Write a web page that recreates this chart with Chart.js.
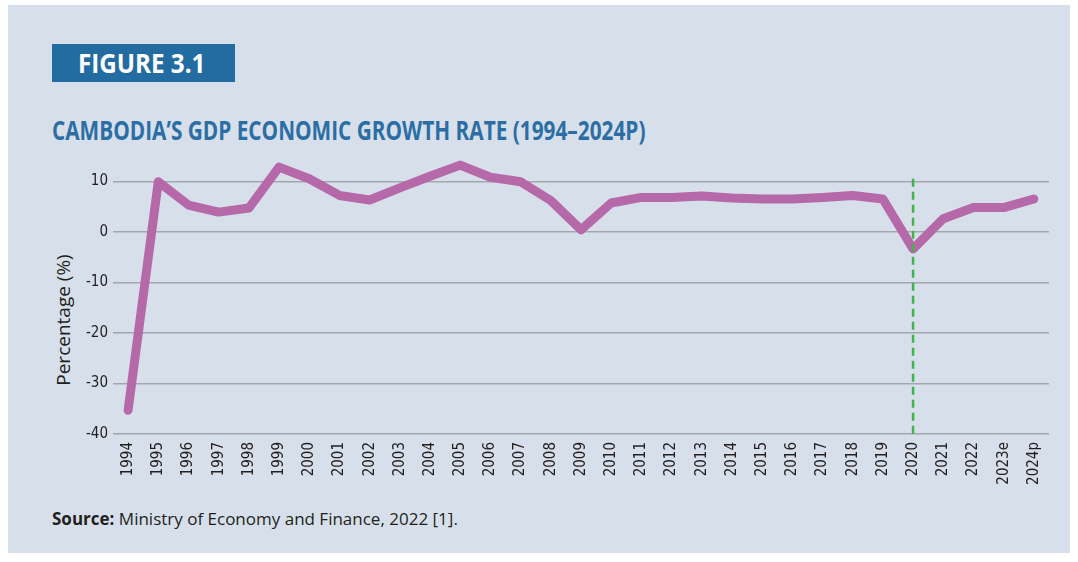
<!DOCTYPE html>
<html>
<head>
<meta charset="utf-8">
<script src="https://cdn.jsdelivr.net/npm/chart.js@4/dist/chart.umd.min.js"></script>
<style>
  html, body { margin: 0; padding: 0; background: #ffffff; }
  body { width: 1078px; height: 562px; position: relative; overflow: hidden; }
  #panel { position: absolute; left: 8px; top: 5px; width: 1062px; height: 548px; background: #d7dfea; }
  #badge { position: absolute; left: 52px; top: 44px; width: 183px; height: 38px; background: #236ca1; }
  #badgeText { position: absolute; left: 78px; top: 44px; height: 38px; line-height: 38px; color: #ffffff;
               font-family: "Open Sans", sans-serif; font-weight: bold; font-size: 26px; white-space: nowrap;
               transform: scaleX(0.93); transform-origin: left center; }
  #title { position: absolute; left: 52px; top: 112px; color: #2b6ea5; font-family: "Open Sans", sans-serif;
           font-weight: bold; font-size: 26px; white-space: nowrap; transform: scaleX(0.8); transform-origin: left top; }
  #ylabel { position: absolute; left: 63px; top: 320px; transform: translate(-50%, -50%) rotate(-90deg);
            font-family: "Open Sans", sans-serif; font-size: 19px; color: #231f20; white-space: nowrap; }
  #source { position: absolute; left: 52px; top: 507px; font-family: "Open Sans", sans-serif; font-size: 17px; color: #231f20; white-space: nowrap; }
  #wrap { position: absolute; left: 40px; top: 142px; width: 1020px; height: 358px; }
</style>
</head>
<body>
<div id="panel"></div>
<div id="badge"></div>
<div id="badgeText">FIGURE 3.1</div>
<div id="title">CAMBODIA’S GDP ECONOMIC GROWTH RATE (1994–2024P)</div>
<div id="ylabel">Percentage (%)</div>
<div id="source"><b>Source:</b> Ministry of Economy and Finance, 2022 [1].</div>
<div id="wrap"><canvas id="gdpChart"></canvas></div>
<script>
// years on the x axis
const years = ['1994', '1995', '1996', '1997', '1998', '1999', '2000', '2001', '2002', '2003',
               '2004', '2005', '2006', '2007', '2008', '2009', '2010', '2011', '2012', '2013',
               '2014', '2015', '2016', '2017', '2018', '2019', '2020', '2021', '2022', '2023e', '2024p'];

// GDP growth rate (%)
const growth = [-35.3, 9.9, 5.3, 3.9, 4.7, 12.8, 10.5, 7.2, 6.3, 8.7,
                11.0, 13.2, 10.8, 9.9, 6.2, 0.4, 5.7, 6.8, 6.8, 7.1,
                6.7, 6.5, 6.5, 6.8, 7.2, 6.5, -3.4, 2.6, 4.8, 4.8, 6.5];

// green dashed marker at 2020
const markerYear = '2020';
const markerTop = 10.5;
const markerBottom = -40;

// y axis ticks
const yTicks = [-40, -30, -20, -10, 0, 10];

const fontNarrow = '"Liberation Sans Narrow", "DejaVu Sans Condensed", sans-serif';

const ctx = document.getElementById('gdpChart').getContext('2d');
new Chart(ctx, {
    type: 'line',
    data: {
        labels: years,
        datasets: [
            {
                label: 'Marker',
                data: [{ x: markerYear, y: markerTop }, { x: markerYear, y: markerBottom }],
                borderColor: '#3db54a',
                borderWidth: 2.5,
                borderDash: [8, 5],
                pointRadius: 0,
                fill: false,
                order: 0
            },
            {
                label: 'GDP growth',
                data: growth,
                borderColor: '#b569a9',
                borderWidth: 9,
                borderJoinStyle: 'round',
                borderCapStyle: 'round',
                pointRadius: 0,
                tension: 0,
                fill: false,
                order: 1
            }
        ]
    },
    options: {
        responsive: true,
        maintainAspectRatio: false,
        animation: false,
        layout: { padding: { left: 0, right: 11, top: 5, bottom: 0 } },
        plugins: {
            legend: { display: false },
            tooltip: { enabled: false }
        },
        scales: {
            x: {
                offset: true,
                grid: { display: false, drawTicks: false },
                border: { display: false },
                ticks: {
                    autoSkip: false,
                    maxRotation: 90,
                    minRotation: 90,
                    padding: 8,
                    color: '#231f20',
                    font: { family: fontNarrow, size: 15 }
                },
                afterFit: axis => { axis.height = 66; }
            },
            y: {
                min: -40,
                max: 15,
                grid: { color: '#a3a7ad', lineWidth: 1.5, drawTicks: false },
                border: { display: false },
                ticks: {
                    padding: 5,
                    color: '#231f20',
                    font: { family: fontNarrow, size: 15 }
                },
                afterBuildTicks: axis => { axis.ticks = yTicks.map(v => ({ value: v })); },
                afterFit: axis => { axis.width = 73; }
            }
        }
    }
});
</script>
</body>
</html>
